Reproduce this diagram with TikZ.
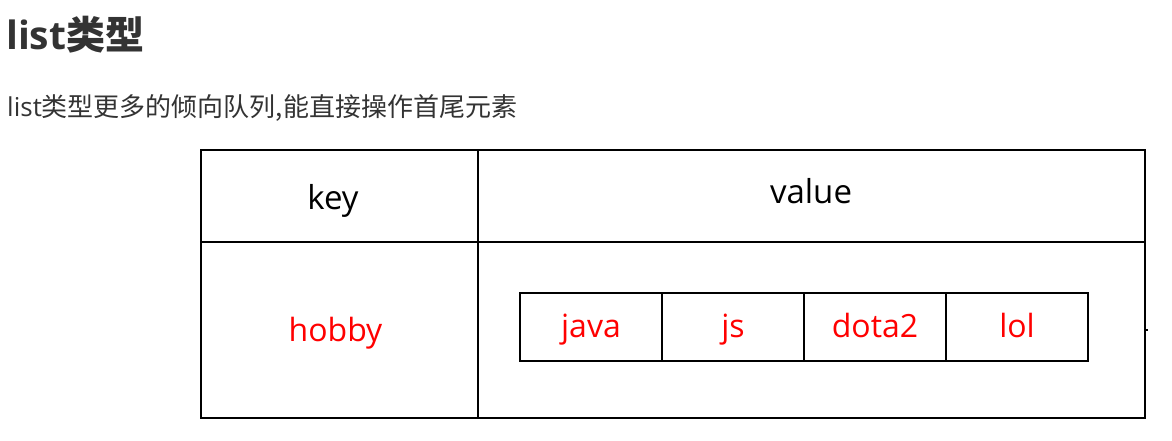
\documentclass[tikz,border=0pt]{standalone}
\usepackage{fontspec}
\setmainfont{Open Sans}
\newfontfamily\cjk{Noto Sans CJK SC}
\usetikzlibrary{positioning}
\definecolor{headgray}{HTML}{333333}
\definecolor{listred}{HTML}{FF0000}

\begin{document}
\begin{tikzpicture}[x=1pt,y=-1pt,
    grid/.style={draw=black,line width=1.8pt},
    cell/.style={grid,minimum width=142pt,minimum height=68pt,inner sep=0pt,outer sep=0pt,
        text=listred,text height=24pt,text depth=3pt,font=\fontsize{32}{38}\selectfont},
    head/.style={anchor=base,inner sep=0pt,font=\fontsize{33}{40}\selectfont}]
    \useasboundingbox (0,0) rectangle (1172,440);

    \node[anchor=base west,inner sep=0pt,text=headgray,font=\fontsize{39}{46}\selectfont\bfseries] (title) at (6,49) {list{\cjk\bfseries 类型}};
    \node[anchor=base west,inner sep=0pt,text=headgray,font=\fontsize{26}{30}\selectfont] (intro) at (7,116.5) {list{\cjk 类型更多的倾向队列,能直接操作首尾元素}};

    \draw[grid] (201,150) rectangle (1145,418);
    \draw[grid] (478,150) -- (478,418);
    \draw[grid] (201,242) -- (1145,242);
    \draw[grid] (1145,330) -- (1148,330);

    \node[head] (key) at (333,209.5) {key};
    \node[head] (value) at (811,203.5) {value};
    \node[head,text=listred,font=\fontsize{32}{38}\selectfont] (hobby) at (335.5,341.5) {hobby};

    \node[cell] (java) at (591,326.6) {java};
    \node[cell,right=0pt of java] (js) {js};
    \node[cell,right=0pt of js] (dota) {dota2};
    \node[cell,right=0pt of dota] (lol) {lol};
\end{tikzpicture}
\end{document}
